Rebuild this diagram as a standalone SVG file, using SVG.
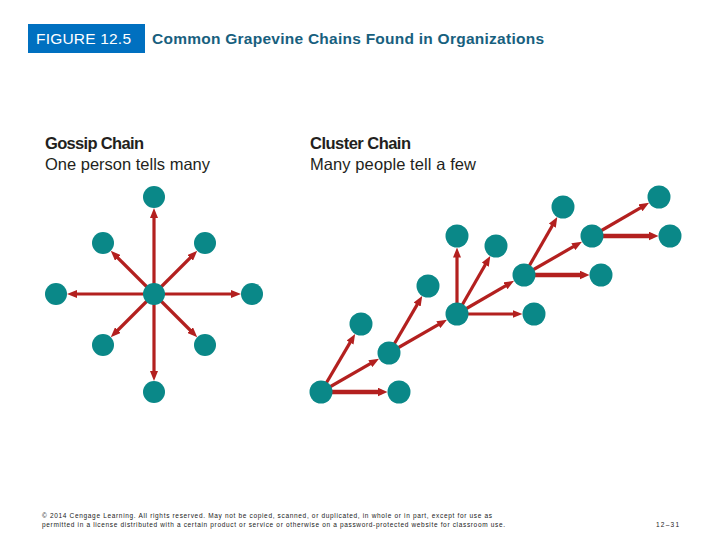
<svg xmlns="http://www.w3.org/2000/svg" width="720" height="540" viewBox="0 0 720 540">
<style>
.node{fill:#0a8888}
.arr{stroke:#b3201f;stroke-width:3.2;fill:none;marker-end:url(#ah)}
.arrT{stroke:#b3201f;stroke-width:4.5;fill:none;marker-end:url(#ahT)}
.hd{font-family:"Liberation Sans",Arial,sans-serif;font-size:15.5px}
.sub{font-family:"Liberation Sans",Arial,sans-serif;font-size:16.5px;fill:#231f20}
.foot{font-family:"Liberation Sans",Arial,sans-serif;font-size:6.5px;fill:#222}
</style>
<defs>
<marker id="ah" markerUnits="userSpaceOnUse" markerWidth="10" markerHeight="8" refX="4" refY="4" orient="auto"><path d="M0,0 L10,4 L0,8 z" fill="#b3201f"/></marker>
<marker id="ahT" markerUnits="userSpaceOnUse" markerWidth="10" markerHeight="9" refX="4" refY="4.5" orient="auto"><path d="M0,0 L10,4.5 L0,9 z" fill="#b3201f"/></marker>
</defs>
<rect width="720" height="540" fill="#ffffff"/>
<g id="header">
<rect x="28" y="24" width="117" height="29" fill="#0070c0"/>
<text class="hd" x="36" y="44" fill="#ffffff" textLength="95">FIGURE 12.5</text>
<text class="hd" x="152" y="44" fill="#17607e" font-weight="bold" textLength="392">Common Grapevine Chains Found in Organizations</text>
</g>
<g id="titles">
<text class="sub" x="45" y="149" font-weight="bold" textLength="99">Gossip Chain</text>
<text class="sub" x="45" y="170" textLength="165">One person tells many</text>
<text class="sub" x="310" y="149" font-weight="bold" textLength="101">Cluster Chain</text>
<text class="sub" x="310" y="170" textLength="166">Many people tell a few</text>
</g>
<g id="connectors">
<line class="arr" x1="154" y1="294" x2="154" y2="214"/>
<line class="arr" x1="154" y1="294" x2="154" y2="375"/>
<line class="arr" x1="154" y1="294" x2="73" y2="294"/>
<line class="arr" x1="154" y1="294" x2="235" y2="294"/>
<line class="arr" x1="154" y1="294" x2="115" y2="255"/>
<line class="arr" x1="154" y1="294" x2="193" y2="255"/>
<line class="arr" x1="154" y1="294" x2="115" y2="333"/>
<line class="arr" x1="154" y1="294" x2="193" y2="333"/>
<line class="arrT" x1="321" y1="392" x2="381.5" y2="392"/>
<line class="arr" x1="321" y1="392" x2="352.1" y2="339.1"/>
<line class="arr" x1="321" y1="392" x2="373.8" y2="361.7"/>
<line class="arr" x1="389" y1="353" x2="419.2" y2="301.1"/>
<line class="arr" x1="389" y1="353" x2="441.8" y2="322.7"/>
<line class="arr" x1="457" y1="314" x2="457" y2="253.5"/>
<line class="arr" x1="457" y1="314" x2="487.3" y2="261.2"/>
<line class="arr" x1="457" y1="314" x2="508.9" y2="283.8"/>
<line class="arr" x1="457" y1="314" x2="516.5" y2="314"/>
<line class="arr" x1="524" y1="275" x2="554.3" y2="222.2"/>
<line class="arr" x1="524" y1="275" x2="576.8" y2="244.7"/>
<line class="arrT" x1="524" y1="275" x2="583.5" y2="275"/>
<line class="arr" x1="592" y1="236" x2="643.9" y2="205.8"/>
<line class="arrT" x1="592" y1="236" x2="652.5" y2="236"/>
</g>
<g id="gossip-center"><circle class="node" cx="154" cy="294" r="11"/></g>
<g id="gossip-top"><circle class="node" cx="154" cy="197" r="11"/></g>
<g id="gossip-bottom"><circle class="node" cx="154" cy="392" r="11"/></g>
<g id="gossip-left"><circle class="node" cx="56" cy="294" r="11"/></g>
<g id="gossip-right"><circle class="node" cx="252" cy="294" r="11"/></g>
<g id="gossip-ul"><circle class="node" cx="103" cy="243" r="11"/></g>
<g id="gossip-ur"><circle class="node" cx="205" cy="243" r="11"/></g>
<g id="gossip-ll"><circle class="node" cx="103" cy="345" r="11"/></g>
<g id="gossip-lr"><circle class="node" cx="205" cy="345" r="11"/></g>
<g id="cluster-a"><circle class="node" cx="321" cy="392" r="11.5"/></g>
<g id="cluster-b"><circle class="node" cx="399" cy="392" r="11.5"/></g>
<g id="cluster-c"><circle class="node" cx="389" cy="353" r="11.5"/></g>
<g id="cluster-d"><circle class="node" cx="361" cy="324" r="11.5"/></g>
<g id="cluster-e"><circle class="node" cx="428" cy="286" r="11.5"/></g>
<g id="cluster-f"><circle class="node" cx="457" cy="314" r="11.5"/></g>
<g id="cluster-g"><circle class="node" cx="457" cy="236" r="11.5"/></g>
<g id="cluster-h"><circle class="node" cx="496" cy="246" r="11.5"/></g>
<g id="cluster-i"><circle class="node" cx="524" cy="275" r="11.5"/></g>
<g id="cluster-j"><circle class="node" cx="534" cy="314" r="11.5"/></g>
<g id="cluster-k"><circle class="node" cx="563" cy="207" r="11.5"/></g>
<g id="cluster-l"><circle class="node" cx="592" cy="236" r="11.5"/></g>
<g id="cluster-m"><circle class="node" cx="601" cy="275" r="11.5"/></g>
<g id="cluster-n"><circle class="node" cx="659" cy="197" r="11.5"/></g>
<g id="cluster-o"><circle class="node" cx="670" cy="236" r="11.5"/></g>
<g id="footer">
<text class="foot" x="42" y="518" textLength="450">© 2014 Cengage Learning. All rights reserved. May not be copied, scanned, or duplicated, in whole or in part, except for use as</text>
<text class="foot" x="42" y="527" textLength="463">permitted in a license distributed with a certain product or service or otherwise on a password-protected website for classroom use.</text>
<text class="foot" x="656" y="527" textLength="23">12–31</text>
</g>
</svg>
